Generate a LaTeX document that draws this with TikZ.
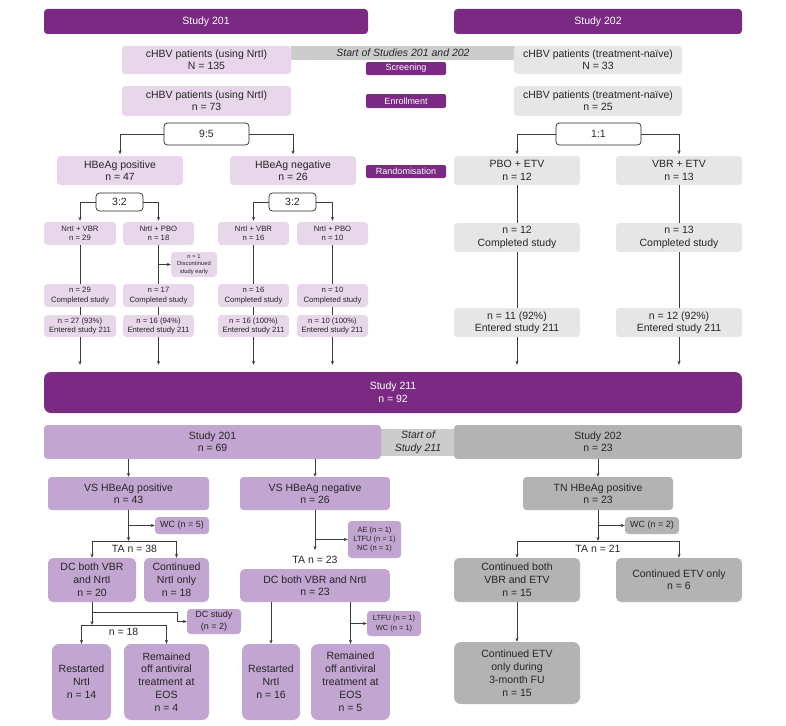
\documentclass[tikz,border=0pt]{standalone}
\usepackage{fontspec}
\setmainfont{Liberation Sans}
\usetikzlibrary{arrows.meta}
\definecolor{dkpurple}{HTML}{7A2A82}
\definecolor{ltlilac}{HTML}{E8D6EA}
\definecolor{mdlilac}{HTML}{C2A5D0}
\definecolor{ltgray}{HTML}{E6E6E6}
\definecolor{dkgray}{HTML}{B3B3B3}
\definecolor{bandgray}{HTML}{CCCCCC}
\definecolor{inkgray}{HTML}{262626}
\newcommand{\fz}[2]{\fontsize{#1}{#2}\selectfont}
% box from (x1,y1) to (x2,y2)
\newcommand{\bx}[7]{\node[#1, minimum width={#4-#2}, minimum height={#5-#3}] (#6) at ({(#2+#4)/2},{(#3+#5)/2}) {#7};}
\tikzset{
  base/.style={rounded corners=3.5pt, align=center, inner sep=1pt, text=inkgray, font=\fz{10.5}{12.4}},
  hdr/.style={base, fill=dkpurple, text=white},
  lil/.style={base, fill=ltlilac},
  lilsm/.style={lil, font=\fz{7.7}{9.6}},
  liltiny/.style={lil, font=\fz{5.8}{7.2}},
  gry/.style={base, fill=ltgray},
  tag/.style={base, rounded corners=2pt, fill=dkpurple, text=white, font=\fz{9}{10}},
  band/.style={base, rounded corners=0pt, fill=bandgray, font=\fz{10.5}{12.8}\itshape},
  ratio/.style={base, draw=inkgray, fill=white, line width=0.7pt},
  mlil/.style={base, fill=mdlilac},
  mlilbig/.style={mlil, rounded corners=7pt, font=\fz{10.5}{12.9}},
  dgry/.style={base, fill=dkgray},
  dgrybig/.style={dgry, rounded corners=7pt, font=\fz{10.5}{12.9}},
  lbl/.style={font=\fz{10.5}{12.4}, text=inkgray, inner sep=0pt},
  con/.style={draw=inkgray!90, line width=0.7pt},
  arr/.style={con, -{Stealth[length=4pt,width=3.2pt]}},
}
\begin{document}
\begin{tikzpicture}[x=1pt, y=-1pt]
\useasboundingbox (0,0) rectangle (786,725);

% studies 201 and 202
\bx{band}{291}{46}{515}{60}{bandA}{Start of Studies 201 and 202}
\bx{hdr}{44}{9}{368}{34}{hdrA}{Study 201}
\bx{hdr}{454}{9}{742}{34}{hdrB}{Study 202}
\bx{lil}{122}{46}{291}{74}{scrA}{cHBV patients (using NrtI)\\N = 135}
\bx{gry}{514}{46}{682}{74}{scrB}{cHBV patients (treatment-naïve)\\N = 33}
\bx{tag}{366}{62}{446}{75}{tagS}{Screening}
\bx{lil}{122}{86}{291}{116}{enrA}{cHBV patients (using NrtI)\\n = 73}
\bx{gry}{514}{86}{682}{116}{enrB}{cHBV patients (treatment-naïve)\\n = 25}
\bx{tag}{366}{94}{446}{108}{tagE}{Enrollment}
\bx{ratio}{164}{123}{249}{145}{ratA}{9:5}
\bx{ratio}{556}{123}{641}{145}{ratB}{1:1}
\bx{lil}{57}{156}{183}{185}{posA}{HBeAg positive\\n = 47}
\bx{lil}{230}{156}{356}{185}{negA}{HBeAg negative\\n = 26}
\bx{tag}{366}{165}{446}{178}{tagR}{Randomisation}
\bx{gry}{454}{156}{580}{185}{pboB}{PBO + ETV\\n = 12}
\bx{gry}{616}{156}{742}{185}{vbrB}{VBR + ETV\\n = 13}

\bx{ratio}{96}{193}{143}{211}{ratP}{3:2}
\bx{ratio}{269}{193}{316}{211}{ratN}{3:2}
\bx{lilsm}{44}{222}{116}{245}{a1}{NrtI + VBR\\n = 29}
\bx{lilsm}{123}{222}{194}{245}{a2}{NrtI + PBO\\n = 18}
\bx{lilsm}{218}{222}{289}{245}{a3}{NrtI + VBR\\n = 16}
\bx{lilsm}{297}{222}{368}{245}{a4}{NrtI + PBO\\n = 10}
\bx{liltiny}{171}{252}{217}{277}{disc}{n = 1\\Discontinued\\study early}
\bx{lilsm}{44}{284}{116}{307}{c1}{n = 29\\Completed study}
\bx{lilsm}{123}{284}{194}{307}{c2}{n = 17\\Completed study}
\bx{lilsm}{218}{284}{289}{307}{c3}{n = 16\\Completed study}
\bx{lilsm}{297}{284}{368}{307}{c4}{n = 10\\Completed study}
\bx{lilsm}{44}{315}{116}{337}{e1}{n = 27 (93\%)\\Entered study 211}
\bx{lilsm}{123}{315}{194}{337}{e2}{n = 16 (94\%)\\Entered study 211}
\bx{lilsm}{218}{315}{289}{337}{e3}{n = 16 (100\%)\\Entered study 211}
\bx{lilsm}{297}{315}{368}{337}{e4}{n = 10 (100\%)\\Entered study 211}
\bx{gry}{454}{223}{580}{252}{cB1}{n = 12\\Completed study}
\bx{gry}{616}{223}{742}{252}{cB2}{n = 13\\Completed study}
\bx{gry}{454}{308}{580}{337}{eB1}{n = 11 (92\%)\\Entered study 211}
\bx{gry}{616}{308}{742}{337}{eB2}{n = 12 (92\%)\\Entered study 211}

\bx{hdr, rounded corners=7pt, font=\fz{10.5}{13}}{44}{372}{742}{413}{s211}{Study 211\\n = 92}

\draw[arr, shorten >=1.5pt] (ratA.west) -| (posA.north);
\draw[arr, shorten >=1.5pt] (ratA.east) -| (negA.north);
\draw[arr, shorten >=1.5pt] (ratB.west) -| (pboB.north);
\draw[arr, shorten >=1.5pt] (ratB.east) -| (vbrB.north);
\draw[arr, shorten >=1pt] (ratP.west) -| (a1.north);
\draw[arr, shorten >=1pt] (ratP.east) -| (a2.north);
\draw[arr, shorten >=1pt] (ratN.west) -| (a3.north);
\draw[arr, shorten >=1pt] (ratN.east) -| (a4.north);
\foreach \i in {1,...,4}{
  \draw[con] (a\i) -- (c\i);
  \draw[con] (c\i) -- (e\i);
  \draw[arr, shorten >=7pt] (e\i) -- (e\i |- s211.north);
}
\draw[arr] (a2.south |- disc.west) -- (disc.west);
\foreach \i in {1,2}{
  \draw[con] (cB\i) -- (eB\i);
  \draw[arr, shorten >=7pt] (eB\i) -- (eB\i |- s211.north);
}
\draw[con] (pboB) -- (cB1);
\draw[con] (vbrB) -- (cB2);

% study 211
\bx{band}{381}{429}{455}{456}{bandB}{Start of\\Study 211}
\bx{mlil}{44}{425}{381}{459}{s201}{Study 201\\n = 69}
\bx{dgry}{454}{425}{742}{459}{s202}{Study 202\\n = 23}
\bx{mlil}{48}{477}{209}{510}{vsp}{VS HBeAg positive\\n = 43}
\bx{mlil}{240}{477}{390}{510}{vsn}{VS HBeAg negative\\n = 26}
\bx{dgry}{523}{477}{673}{510}{tn}{TN HBeAg positive\\n = 23}
\bx{mlil, font=\fz{9}{10}}{155}{517}{209}{534}{wc5}{WC (n = 5)}
\bx{dgry, font=\fz{9}{10}}{625}{517}{679}{534}{wc2}{WC (n = 2)}
\bx{mlil, font=\fz{7.5}{9.2}}{348}{521}{401}{558}{aeb}{AE (n = 1)\\LTFU (n = 1)\\NC (n = 1)}
\bx{mlil, rounded corners=5pt, font=\fz{10.5}{12.9}}{48}{558}{136}{602}{dcp}{DC both VBR\\and NrtI\\n = 20}
\bx{mlil, rounded corners=5pt, font=\fz{10.5}{12.9}}{144}{558}{209}{602}{cnp}{Continued\\NrtI only\\n = 18}
\bx{mlil, rounded corners=5pt}{240}{569}{390}{602}{dcn}{DC both VBR and NrtI\\n = 23}
\bx{dgry, rounded corners=5pt, font=\fz{10.5}{12.9}}{454}{558}{580}{602}{cbv}{Continued both\\VBR and ETV\\n = 15}
\bx{dgry, rounded corners=5pt}{616}{558}{742}{602}{cet}{Continued ETV only\\n = 6}
\bx{mlil, font=\fz{9}{11.8}}{187}{609}{241}{634}{dcs}{DC study\\(n = 2)}
\bx{mlil, font=\fz{7.5}{9.2}}{367}{611}{421}{636}{ltw}{LTFU (n = 1)\\WC (n = 1)}
\bx{mlilbig}{52}{644}{111}{720}{rsp}{Restarted\\NrtI\\n = 14}
\bx{mlilbig}{124}{644}{209}{720}{rmp}{Remained\\off antiviral\\treatment at\\EOS\\n = 4}
\bx{mlilbig}{242}{644}{300}{720}{rsn}{Restarted\\NrtI\\n = 16}
\bx{mlilbig}{311}{644}{390}{720}{rmn}{Remained\\off antiviral\\treatment at\\EOS\\n = 5}
\bx{dgrybig}{454}{642}{580}{704}{fu}{Continued ETV\\only during\\3-month FU\\n = 15}

\node[lbl] (taP) at (134.5,549) {TA n = 38};
\node[lbl] (taN) at (315,560) {TA n = 23};
\node[lbl] (taT) at (598,549) {TA n = 21};
\node[lbl] (n18) at (123.5,632) {n = 18};
\coordinate (jP) at (128.5,541);
\coordinate (jN) at (315,550);
\coordinate (jT) at (598,541);
\coordinate (kP) at (92,612);
\coordinate (kD) at (177,621.5);
\coordinate (jR) at (92,625);

\draw[arr] (s201.south -| vsp) -- (vsp);
\draw[arr] (s201.south -| vsn) -- (vsn);
\draw[arr] (s202.south -| tn) -- (tn);
\draw[arr] (vsp) -- (jP);
\draw[arr] (jP) -| (dcp.north);
\draw[arr] (jP) -| (cnp.north);
\draw[arr] (vsp.south |- wc5.west) -- (wc5.west);
\draw[arr] (vsn) -- (jN);
\draw[arr] (vsn.south |- aeb.west) -- (aeb.west);
\draw[arr] (tn) -- (jT);
\draw[arr] (jT) -| (cbv.north);
\draw[arr] (jT) -| (cet.north);
\draw[arr] (tn.south |- wc2.west) -- (wc2.west);
\draw[arr] (cbv) -- (fu);
\draw[con] (dcp) -- (kP) -| (kD);
\draw[arr] (kD) -- (dcs);
\draw[arr] (kP) -- (jR);
\draw[arr] (jR) -| (rsp.north);
\draw[arr] (jR) -| (rmp.north);
\draw[arr] (dcn.south -| rsn) -- (rsn);
\draw[arr] (dcn.south -| rmn) -- (rmn);
\draw[arr] (rmn.north |- ltw.west) -- (ltw.west);
\end{tikzpicture}
\end{document}
